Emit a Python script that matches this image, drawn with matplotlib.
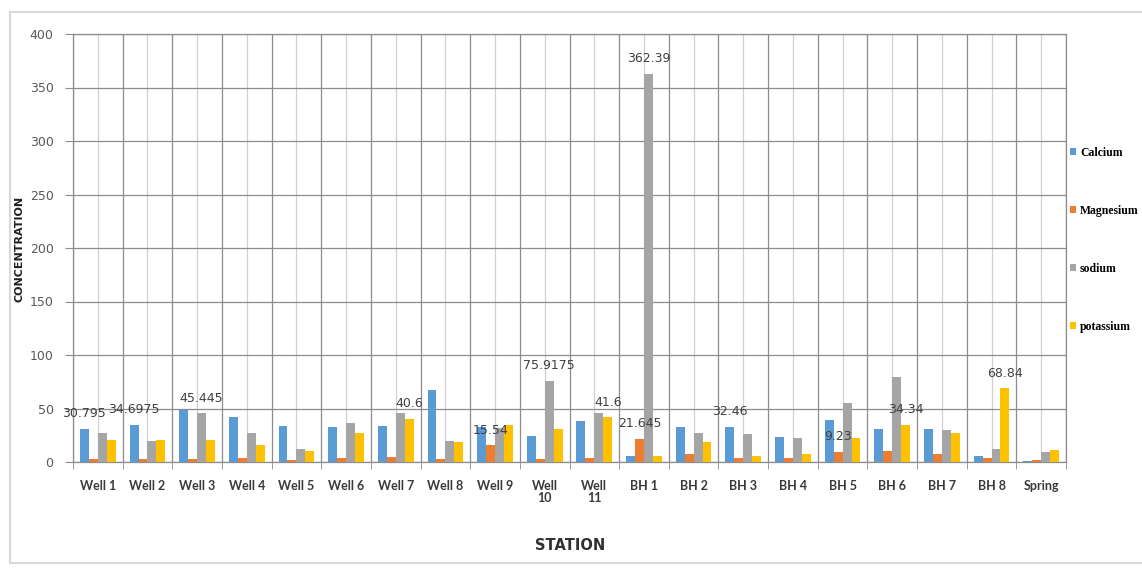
import numpy as np
import matplotlib
matplotlib.use("Agg")
import matplotlib.pyplot as plt
from matplotlib.lines import Line2D

# Station names and ion concentrations
stations = ["Well 1", "Well 2", "Well 3", "Well 4", "Well 5", "Well 6", "Well 7",
            "Well 8", "Well 9", "Well\n10", "Well\n11", "BH 1", "BH 2", "BH 3",
            "BH 4", "BH 5", "BH 6", "BH 7", "BH 8", "Spring"]
calcium = [30.795, 34.6975, 49, 42, 34, 32.5, 33.5, 67.5, 33, 24.5, 38, 5.5,
           33, 32.46, 23.5, 39.5, 31, 31, 6, 1]
magnesium = [2.5, 3, 3, 3.5, 2, 3.5, 4.5, 3, 15.54, 3, 4, 21.645,
             7.5, 4, 4, 9.23, 10, 7.5, 4, 2]
sodium = [27, 20, 45.445, 27, 12.5, 36, 46, 19.5, 32, 75.9175, 45.5, 362.39,
          27, 26, 22.5, 55, 79.5, 30, 12, 9.5]
potassium = [21, 21, 21, 16, 10, 27, 40.6, 19, 34.5, 31, 41.6, 5.5,
             18.5, 6, 7.5, 22.5, 34.34, 27, 68.84, 11.5]

series_names = ["Calcium", "Magnesium", "sodium", "potassium"]
series_values = [calcium, magnesium, sodium, potassium]
series_colors = ["#5B9BD5", "#ED7D31", "#A5A5A5", "#FFC000"]

# Bars that carry a value label: (station index, series name)
labelled = [(0, "Calcium"), (1, "Calcium"), (2, "sodium"), (6, "potassium"),
            (8, "Magnesium"), (9, "sodium"), (10, "potassium"), (11, "sodium"),
            (11, "Magnesium"), (13, "Calcium"), (15, "Magnesium"),
            (16, "potassium"), (18, "potassium")]

W, H = 1142, 568
fig = plt.figure(figsize=(W / 100, H / 100), dpi=100)
ax = fig.add_axes([73 / W, 1 - 462 / H, (1066 - 73) / W, (462 - 34) / H])

x = np.arange(len(stations))
bar_w = 0.18
offsets = (np.arange(4) - 1.5) * bar_w
containers = {}
for name, vals, col, off in zip(series_names, series_values, series_colors, offsets):
    containers[name] = ax.bar(x + off, vals, width=bar_w, color=col,
                              label=name, zorder=3)

# value labels above the selected bars
for idx, name in labelled:
    rect = containers[name].patches[idx]
    val = series_values[series_names.index(name)][idx]
    ax.annotate(f"{val:g}",
                xy=(rect.get_x() + rect.get_width() / 2, rect.get_height()),
                xytext=(0, 11), textcoords="offset points",
                ha="center", va="center", fontsize=9, color="#404040",
                zorder=5)

ax.set_xlim(-0.5, len(stations) - 0.5)
ax.set_ylim(0, 400)
ax.set_yticks(np.arange(0, 401, 50))

# category labels at centres, boundaries as minor ticks
ax.set_xticks(x)
ax.set_xticklabels(stations, fontsize=9, fontweight="bold", color="#3a3a3a",
                   family="Lato", linespacing=1.0)
ax.set_xticks(np.arange(-0.5, len(stations), 1.0), minor=True)
ax.tick_params(axis="x", which="major", length=0, pad=13)
ax.tick_params(axis="x", which="minor", length=5, color="#8c8c8c")
ax.tick_params(axis="y", length=6, color="#8c8c8c", labelsize=9,
               labelcolor="#595959", pad=8)

ax.grid(axis="y", color="#8c8c8c", linewidth=0.9, zorder=0)
ax.grid(axis="x", which="minor", color="#8c8c8c", linewidth=0.9, zorder=0)
ax.grid(axis="x", which="major", color="#d0d0d0", linewidth=0.9, zorder=0)
for sp in ax.spines.values():
    sp.set_color("#8c8c8c")
    sp.set_linewidth(0.9)

fig.text(20 / W, 1 - 249 / H, "CONCENTRATION", rotation=90, ha="center",
         va="center", fontsize=8, fontweight="bold", color="#202020")
fig.text(570 / W, 1 - 545 / H, "STATION", ha="center", va="center",
         fontsize=10.5, fontweight="bold", color="#303030")

fig.legend(handles=[containers[n] for n in series_names],
           labels=series_names, loc="center left",
           bbox_to_anchor=(1064 / W, 1 - 240 / H), frameon=False,
           prop={"family": "Liberation Serif", "weight": "bold", "size": 8.5},
           handlelength=0.55, handleheight=0.55, handletextpad=0.3,
           labelspacing=3.9, borderpad=0)

# outer chart frame
frame_col = "#d9d9d9"
fig.add_artist(Line2D([10 / W, 10 / W], [1 - 12 / H, 1 - 563 / H],
                      transform=fig.transFigure, color=frame_col, lw=1.5))
fig.add_artist(Line2D([10 / W, 1.0], [1 - 12 / H, 1 - 12 / H],
                      transform=fig.transFigure, color=frame_col, lw=1.5))
fig.add_artist(Line2D([10 / W, 1.0], [1 - 563 / H, 1 - 563 / H],
                      transform=fig.transFigure, color=frame_col, lw=1.5))

fig.savefig("out.png", dpi=100)
